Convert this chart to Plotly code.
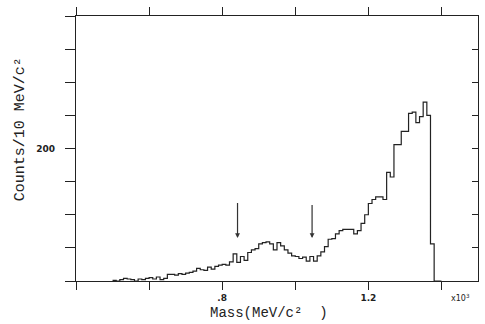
import plotly.graph_objects as go

# Histogram: 10 MeV bins starting at 0.50 (x10^3 MeV/c^2)
bin_start = 0.50
bin_width = 0.01
counts = [
    1, 0, 2, 4, 3, 2, 0, 3, 2, 4,            # 0.50-0.60
    5, 3, 6, 2, 4, 10, 10, 9, 11, 10,        # 0.60-0.70
    12, 13, 15, 19, 17, 16, 21, 18, 22, 24,  # 0.70-0.80
    25, 24, 29, 41, 28, 37, 31, 43, 47, 49,  # 0.80-0.90
    56, 58, 59, 56, 47, 58, 53, 47, 42, 38,  # 0.90-1.00
    37, 34, 36, 30, 37, 30, 38, 44, 52, 63,  # 1.00-1.10
    64, 71, 76, 78, 78, 78, 71, 76, 87, 100, # 1.10-1.20
    117, 123, 127, 127, 123, 164, 157, 206, 206, 226,  # 1.20-1.30
    226, 253, 255, 239, 248, 270, 250, 56, 0, 0,       # 1.30-1.40
]

x_ticks = [0.4, 0.6, 0.8, 1.0, 1.2, 1.4]
x_ticktext = ["", "", ".8", "", "1.2", ""]
y_ticks = [0, 50, 100, 150, 200, 250, 300, 350, 400]
y_ticktext = ["", "", "", "", "200", "", "", "", ""]

# arrows: (mass, tail count, head count)
arrow_x = [0.842, 1.046]
arrow_tail = [120, 117]
arrow_head = [65, 65]

edges = [round(bin_start + i * bin_width, 4) for i in range(len(counts) + 1)]
ys = counts + [counts[-1]]

fig = go.Figure()
fig.add_trace(go.Scatter(x=edges, y=ys, mode="lines", line_shape="hv",
                         line=dict(color="#222", width=1.2), hoverinfo="skip"))
fig.add_trace(go.Scatter(x=[0.4], y=[0], yaxis="y2", mode="markers",
                         marker=dict(opacity=0), hoverinfo="skip"))

mono = "Liberation Mono"
fig.update_layout(
    width=485, height=324,
    margin=dict(l=76, r=7, t=12, b=43),
    paper_bgcolor="white", plot_bgcolor="white",
    showlegend=False,
    xaxis=dict(range=[0.4, 1.5], tickvals=x_ticks, ticktext=x_ticktext,
               ticks="outside", ticklen=8, tickcolor="#222", tickwidth=1,
               showline=True, linecolor="#222", linewidth=1.2, mirror="ticks",
               showgrid=False, zeroline=False,
               tickfont=dict(family="DejaVu Sans", size=9, color="#222", weight="bold")),
    yaxis=dict(range=[0, 400], tickvals=y_ticks, ticktext=y_ticktext,
               ticks="outside", ticklen=10, tickcolor="#222", tickwidth=1,
               showline=True, linecolor="#222", linewidth=1.2,
               showgrid=False, zeroline=False, ticklabelstandoff=8,
               tickfont=dict(family="DejaVu Sans", size=9, color="#222", weight="bold")),
    yaxis2=dict(range=[0, 400], tickvals=y_ticks, overlaying="y", side="right",
                ticks="inside", ticklen=6, tickcolor="#222", showticklabels=False,
                showline=True, linecolor="#222", linewidth=1.2,
                showgrid=False, zeroline=False),
)

annotations = [
    dict(text="Mass(MeV/c²  )", x=269, y=313, size=14),
    dict(text="Counts/10 MeV/c²", x=20, y=127, textangle=-90, size=15),
]
anns = []
for a in annotations:
    anns.append(dict(text=a["text"], x=(a["x"] - 76) / (485 - 76 - 7),
                     y=1 - (a["y"] - 12) / (324 - 12 - 43),
                     xref="paper", yref="paper", showarrow=False,
                     textangle=a.get("textangle", 0),
                     font=dict(family=mono, size=a["size"], color="#222"),
                     xanchor="center", yanchor="middle"))
anns.append(dict(text="x10<sup>3</sup>", x=(460 - 76) / 402, y=1 - (298 - 12) / 269,
                 xref="paper", yref="paper", showarrow=False,
                 font=dict(family="DejaVu Sans", size=8, color="#222"),
                 xanchor="center", yanchor="middle"))
for xa, t, h in zip(arrow_x, arrow_tail, arrow_head):
    anns.append(dict(x=xa, y=h, ax=xa, ay=t, xref="x", yref="y", axref="x", ayref="y",
                     text="", showarrow=True, arrowhead=2, arrowsize=0.8,
                     arrowwidth=1.2, arrowcolor="#333"))
fig.update_layout(annotations=anns)

fig.write_html("out.html")
